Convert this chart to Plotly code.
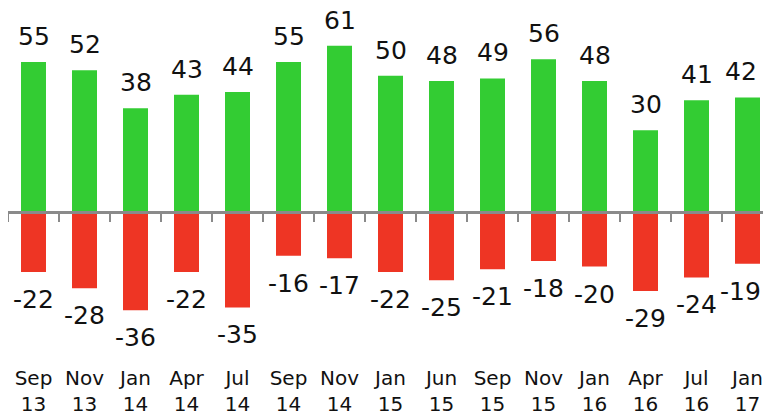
import plotly.graph_objects as go

categories = ["Sep<br>13", "Nov<br>13", "Jan<br>14", "Apr<br>14", "Jul<br>14",
              "Sep<br>14", "Nov<br>14", "Jan<br>15", "Jun<br>15", "Sep<br>15",
              "Nov<br>15", "Jan<br>16", "Apr<br>16", "Jul<br>16", "Jan<br>17"]
positive = [55, 52, 38, 43, 44, 55, 61, 50, 48, 49, 56, 48, 30, 41, 42]
negative = [-22, -28, -36, -22, -35, -16, -17, -22, -25, -21, -18, -20, -29, -24, -19]

GREEN = "#33cc33"
RED = "#ee3524"
AXIS = "#8a8a8a"
FONT = "DejaVu Sans"

# page body has an 8px margin; figure fills the rest of the 771x420 window
W, H = 763, 412
ml, mr, mt, mb = 0, 0, 0, 56
plot_h = H - mt - mb
plot_w = W - ml - mr
cat_w = 51.0
px_per_unit = 2.727
zero_px = 204
ymax = (zero_px - mt) / px_per_unit
ymin = -(H - mb - zero_px) / px_per_unit
zero_frac = (H - mb - zero_px) / plot_h
xmax = -0.5 + plot_w / cat_w

fig = go.Figure()
fig.add_trace(go.Bar(x=categories, y=positive, marker=dict(color=GREEN, line=dict(width=0)),
                     xaxis="x", yaxis="y", hoverinfo="skip"))
fig.add_trace(go.Bar(x=categories, y=negative, marker=dict(color=RED, line=dict(width=0)),
                     xaxis="x2", yaxis="y", hoverinfo="skip"))

annotations = []
n = len(categories)
for i, (c, v) in enumerate(zip(categories, positive)):
    annotations.append(dict(x=c, y=v, xref="x", yref="y", text=str(v), showarrow=False,
                            yanchor="bottom", yshift=10, borderpad=0,
                            xshift=-7 if i == n - 1 else 0,
                            font=dict(family=FONT, size=25, color="#111111")))
for i, (c, v) in enumerate(zip(categories, negative)):
    annotations.append(dict(x=c, y=v, xref="x", yref="y", text=str(v), showarrow=False,
                            yanchor="top", yshift=-12, borderpad=0,
                            xshift=-7 if i == n - 1 else 0,
                            font=dict(family=FONT, size=25, color="#111111")))

fig.update_layout(
    width=W, height=H,
    margin=dict(l=ml, r=mr, t=mt, b=mb, pad=0),
    paper_bgcolor="white", plot_bgcolor="white",
    showlegend=False,
    bargap=0.51,
    annotations=annotations,
    xaxis=dict(type="category", range=[-0.5, xmax], showline=False, ticks="",
               showgrid=False, zeroline=False,
               tickfont=dict(family=FONT, size=20, color="#111111")),
    xaxis2=dict(type="category", matches="x", overlaying="x", anchor="free",
                position=zero_frac, showline=True, linecolor=AXIS, linewidth=3,
                ticks="outside", tickson="boundaries", ticklen=8, tickwidth=2,
                tickcolor=AXIS, showticklabels=False, showgrid=False, zeroline=False),
    yaxis=dict(range=[ymin, ymax], visible=False, showgrid=False, zeroline=False),
)

fig.write_html("out.html")
